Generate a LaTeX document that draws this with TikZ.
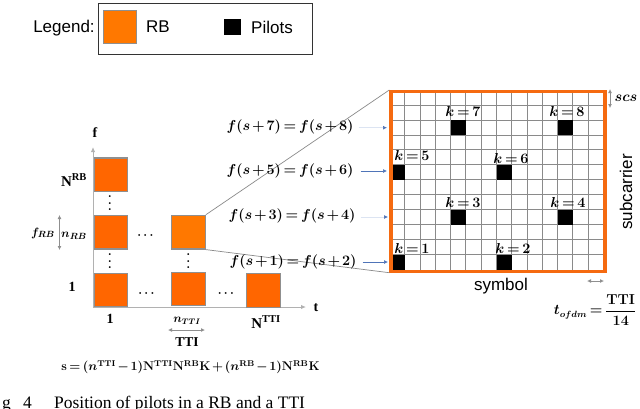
\documentclass[tikz,border=0pt]{standalone}
\usepackage{amsmath}
\usepackage{fontspec}
\setmainfont{Liberation Serif}
\newfontfamily\arialf{Liberation Sans}
\usetikzlibrary{arrows.meta,calc}
\definecolor{rborange}{HTML}{FF6600}
\definecolor{rblight}{HTML}{FF7800}
\definecolor{rbline}{HTML}{8F8F8F}
\definecolor{gridgrey}{HTML}{8A8A8A}
\definecolor{frameorange}{HTML}{F56A10}
\definecolor{arrblue}{HTML}{4F74B8}
\definecolor{paleblue}{HTML}{DCE4F2}
\newcommand{\bm}[1]{{\boldmath\medmuskip=2mu\thickmuskip=3mu$#1$}}
\tikzset{
 x=1pt,y=-1pt,
 rbbox/.style={draw=rbline,line width=1.4pt,fill=rborange,minimum width=33.5pt,minimum height=33.5pt,inner sep=0pt,anchor=north west},
 pilot/.style={fill=black,inner sep=0pt,anchor=north west},
 sanslab/.style={font=\arialf\fontsize{17}{19}\selectfont,inner sep=0pt},
 mathlab/.style={font=\fontsize{13.5}{16}\selectfont,inner sep=0pt},
 smallmath/.style={font=\fontsize{12.5}{14}\selectfont,inner sep=0pt},
 klab/.style={font=\fontsize{13.5}{15}\selectfont,inner sep=0pt},
 boldlab/.style={font=\bfseries\fontsize{14}{16}\selectfont,inner sep=0pt},
 dim/.style={draw=rbline,line width=0.8pt,{Latex[length=4pt,width=4pt]}-{Latex[length=4pt,width=4pt]}},
 axisline/.style={draw=rbline!70,line width=1pt,-{Latex[length=5pt,width=4.5pt]}},
 zoomline/.style={draw=gridgrey,line width=0.7pt},
 gridline/.style={draw=gridgrey,line width=0.7pt},
 feed/.style={draw=arrblue,line width=0.7pt,-{Latex[length=4pt,width=4pt]}},
 feedpale/.style={draw=paleblue,line width=0.7pt,-{Latex[length=4pt,width=4pt,color=arrblue]}},
 dotlab/.style={inner sep=0pt,font=\fontsize{12}{14}\selectfont},
}
\begin{document}
\begin{tikzpicture}
\useasboundingbox (0,0) rectangle (640,408);
\clip (0,0) rectangle (640,408);

% legend
\node[sanslab] (legtxt) at (64,28) {Legend:};
\node[draw=black!80,line width=0.8pt,minimum width=214.5pt,minimum height=51pt,inner sep=0pt,anchor=north west] (legbox) at (97.7,3) {};
\node[rbbox,draw=rbline,fill=rblight,minimum width=33pt,minimum height=33pt] (legrb) at (103,10) {};
\node[sanslab] (legrbt) at (158,27) {RB};
\node[pilot,minimum width=17pt,minimum height=15.5pt] (legp) at (224,19) {};
\node[sanslab] (legpt) at (272,27) {Pilots};

% axes
\coordinate (orig) at (93,307);
\coordinate (ftop) at (93,147);
\coordinate (tend) at (306,307);
\draw[axisline] (orig) -- (ftop);
\draw[axisline] (orig) -- (tend);
\node[boldlab] (flab) at (95,133) {f};
\node[boldlab] (tlab) at (316,308) {t};

% RBs
\node[rbbox] (r3) at (93.5,157.3) {};
\node[rbbox] (r2) at (93.5,214.7) {};
\node[rbbox] (r1) at (93.5,272.5) {};
\node[rbbox,fill=rblight] (rm) at (171,214.7) {};
\node[rbbox] (c2) at (171,271.5) {};
\node[rbbox] (c3) at (246,273) {};

% dots
\foreach \n/\x/\y in {va/110/202,vb/110/260,vc/188.5/260}
  \node[dotlab,rotate=90] (\n) at (\x,\y) {\bm{\cdots}};
\foreach \n/\x/\y in {ha/146.5/236,hb/147.5/294,hc/227/294}
  \node[dotlab] (\n) at (\x,\y) {\bm{\cdots}};

% left labels
\node[boldlab,font=\bfseries\fontsize{15}{17}\selectfont] (nrb) at (74,180) {N\textsuperscript{RB}};
\node[boldlab] (one) at (72,287) {1};
\node[smallmath] (frb) at (43,233) {\bm{f_{RB}}};
\node[smallmath] (nrbm) at (74,236) {\bm{n_{RB}}};
\coordinate (da) at (59.5,215);
\coordinate (db) at (59.5,250);
\draw[dim] (da) -- (db);
\node[boldlab] (oneb) at (110,319) {1};
\node[smallmath,font=\fontsize{12}{14}\selectfont] (ntti) at (187,321) {\bm{n_{TTI}}};
\coordinate (ea) at (168,330);
\coordinate (eb) at (205,330);
\draw[dim] (ea) -- (eb);
\node[boldlab,font=\bfseries\fontsize{13.5}{15}\selectfont] (tti) at (187,342) {TTI};
\node[boldlab,font=\bfseries\fontsize{15}{17}\selectfont] (nttib) at (266,322) {N\textsuperscript{TTI}};
\node[smallmath,font=\fontsize{12}{14}\selectfont,scale=1.05,anchor=center] (sform) at (190.5,367) {\bm{\mathbf{s}=(n^{\mathbf{TTI}}-1)\mathbf{N}^{\mathbf{TTI}}\mathbf{N}^{\mathbf{RB}}\mathbf{K}+(n^{\mathbf{RB}}-1)\mathbf{N}^{\mathbf{RB}}\mathbf{K}}};

% caption
\node[inner sep=0pt,anchor=base west,font=\fontsize{17.5}{20}\selectfont] (cap1) at (2,408) {g};
\node[inner sep=0pt,anchor=base west,font=\fontsize{17.5}{20}\selectfont] (cap2) at (23,408) {4};
\node[inner sep=0pt,anchor=base west,font=\fontsize{17.5}{20}\selectfont] (cap3) at (54,408) {Position of pilots in a RB and a TTI};

% grid
\node[minimum width=214pt,minimum height=179.5pt,inner sep=0pt,anchor=north west] (grid) at (389.3,90) {};
\foreach \i in {1,...,13}
  \draw[gridline] ($(grid.north west)+(15.29*\i,0)$) -- ($(grid.south west)+(15.29*\i,0)$);
\foreach \j in {1,...,11}
  \draw[gridline] ($(grid.north west)+(0,14.96*\j)$) -- ($(grid.north east)+(0,14.96*\j)$);
% pilots (column, row from top)
\foreach \n/\c/\r in {p1/0/11,p2/7/11,p3/4/8,p4/11/8,p5/0/5,p6/7/5,p7/4/2,p8/11/2}
  \node[pilot,minimum width=15.3pt,minimum height=15pt] (\n) at (389.3+15.29*\c,90+14.96*\r) {};
\node[draw=frameorange,line width=3.2pt,minimum width=214pt,minimum height=179.5pt,inner sep=0pt,anchor=north west] (frame) at (389.3,90) {};

% k labels
\foreach \n/\x/\y/\t in {k7/463/111/7,k8/567/111/8,k5/412/155/5,k6/511/158/6,k3/463/202/3,k4/568/202/4,k1/412/248/1,k2/513/248/2}
  \node[klab] (\n) at (\x,\y) {\bm{k=\t}};

% zoom lines
\draw[zoomline] (rm.north east) -- (frame.north west);
\draw[zoomline] (rm.south east) -- (frame.south west);

% f labels
\node[mathlab] (f7) at (290,127) {\bm{f(s+7)=f(s+8)}};
\node[mathlab] (f5) at (290,171) {\bm{f(s+5)=f(s+6)}};
\node[mathlab] (f3) at (292,216) {\bm{f(s+3)=f(s+4)}};
\node[mathlab] (f1) at (293,262) {\bm{f(s+1)=f(s+2)}};
\coordinate (e7) at (387,127.7);
\coordinate (e5) at (387,171);
\coordinate (e3) at (388,217);
\coordinate (e1) at (388,262);
\draw[feedpale] ($(f7.east)+(5,0.7)$) -- (e7);
\draw[feed] ($(f5.east)+(7,0)$) -- (e5);
\draw[feedpale] ($(f3.east)+(5,1)$) -- (e3);
\draw[feed] ($(f1.east)+(6,0)$) -- (e1);

% right labels
\coordinate (sa) at (610,89);
\coordinate (sb) at (610,108);
\draw[dim] (sa) -- (sb);
\node[mathlab] (scs) at (626,98) {\bm{scs}};
\node[sanslab,rotate=90] (sub) at (626,192) {subcarrier};
\node[sanslab] (sym) at (501,286) {symbol};
\coordinate (ta) at (587,281);
\coordinate (tb) at (604,281);
\draw[dim] (ta) -- (tb);
\node[smallmath,font=\fontsize{13.5}{15}\selectfont] (tofdm) at (595,310) {\bm{t_{ofdm}=\dfrac{\mathbf{TTI}}{\mathbf{14}}}};
\end{tikzpicture}
\end{document}
